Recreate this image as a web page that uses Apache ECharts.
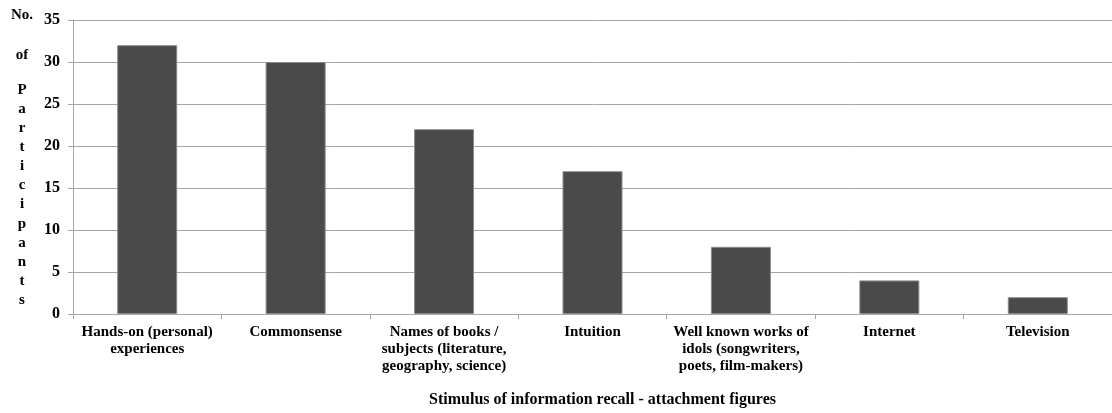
<!DOCTYPE html>
<html>
<head>
<meta charset="utf-8">
<script src="https://cdn.jsdelivr.net/npm/echarts@6/dist/echarts.min.js"></script>
<style>
  html, body { margin: 0; padding: 0; background: #ffffff; }
  #chart { width: 1112px; height: 413px; }
</style>
</head>
<body>
<div id="chart"></div>
<script>
// Sources that helped participants recall information
const categories = [
  'Hands-on (personal)\nexperiences',
  'Commonsense',
  'Names of books /\nsubjects (literature,\ngeography, science)',
  'Intuition',
  'Well known works of\nidols (songwriters,\npoets, film-makers)',
  'Internet',
  'Television'
];
const participants = [32, 30, 22, 17, 8, 4, 2];
const yTitleParts = ['No.', 'of', 'P', 'a', 'r', 't', 'i', 'c', 'i', 'p', 'a', 'n', 't', 's'];
const xTitle = 'Stimulus of information recall - attachment figures';

const serif = '"Liberation Serif", "DejaVu Serif", serif';

// Vertical axis title, one line per word / letter
const yTitleY = [15, 55, 90];
const yTitleElements = yTitleParts.map((t, i) => ({
  type: 'text',
  x: 22,
  y: i < 3 ? yTitleY[i] : 90 + (i - 2) * 19.1,
  style: {
    text: t,
    fill: '#000',
    font: 'bold 15px ' + serif,
    align: 'center',
    verticalAlign: 'middle'
  }
}));

const chart = echarts.init(document.getElementById('chart'), null, { renderer: 'canvas' });
chart.setOption({
  animation: false,
  backgroundColor: '#ffffff',
  grid: { left: 73, right: 0, top: 20, bottom: 99, containLabel: false },
  xAxis: {
    type: 'category',
    data: categories,
    name: xTitle,
    nameLocation: 'middle',
    nameGap: 78,
    nameTextStyle: {
      fontFamily: serif, fontWeight: 'bold', fontSize: 16, color: '#000',
      padding: [0, 0, 0, 20]
    },
    axisLine: { lineStyle: { color: '#a6a6a6', width: 1 } },
    axisTick: { show: true, alignWithLabel: false, length: 5, lineStyle: { color: '#a6a6a6' } },
    axisLabel: {
      interval: 0,
      margin: 10,
      fontFamily: serif,
      fontWeight: 'bold',
      fontSize: 15,
      lineHeight: 17,
      color: '#000',
      align: 'center'
    }
  },
  yAxis: {
    type: 'value',
    min: 0,
    max: 35,
    interval: 5,
    axisLine: { show: true, lineStyle: { color: '#a6a6a6', width: 1 } },
    axisTick: { show: true, length: 5, lineStyle: { color: '#a6a6a6' } },
    axisLabel: {
      margin: 13,
      fontFamily: serif,
      fontWeight: 'bold',
      fontSize: 16,
      color: '#000'
    },
    splitLine: { show: true, lineStyle: { color: '#a6a6a6', width: 1 } }
  },
  series: [{
    type: 'bar',
    data: participants,
    barWidth: 60,
    itemStyle: { color: '#4a4a4a', borderColor: '#8a8a8a', borderWidth: 1 }
  }],
  graphic: yTitleElements
});
</script>
</body>
</html>
